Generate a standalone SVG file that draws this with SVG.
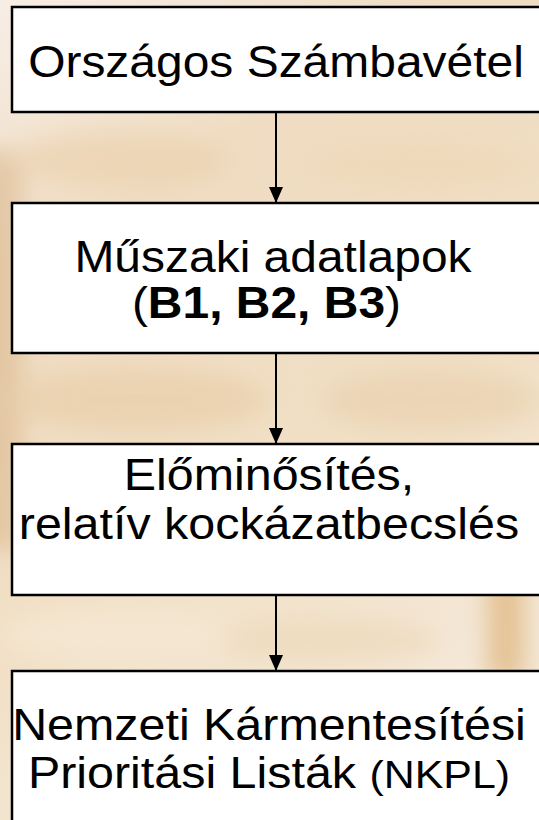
<svg xmlns="http://www.w3.org/2000/svg" width="539" height="820" viewBox="0 0 539 820">
  <defs>
    <linearGradient id="bg" x1="0" y1="0" x2="0.4" y2="1">
      <stop offset="0" stop-color="#f7eee6"/>
      <stop offset="0.3" stop-color="#efdcc2"/>
      <stop offset="0.7" stop-color="#f1e0c6"/>
      <stop offset="1" stop-color="#f4e8d8"/>
    </linearGradient>
    <filter id="blur" x="-50%" y="-50%" width="200%" height="200%">
      <feGaussianBlur stdDeviation="12"/>
    </filter>
    <marker id="arrow" viewBox="0 0 16 14" refX="16" refY="7" markerWidth="16" markerHeight="14" markerUnits="userSpaceOnUse" orient="auto">
      <path d="M0,0 L16,7 L0,14 Z" fill="#000"/>
    </marker>
    <style>
      .box { fill: #ffffff; stroke: #000000; stroke-width: 2.5; }
      .lbl { font-family: "Liberation Sans", Arial, sans-serif; font-size: 44px; fill: #000000; text-anchor: middle; }
      .b { font-weight: bold; }
      .sm { font-size: 39px; }
      .conn { stroke: #000000; stroke-width: 2; fill: none; }
    </style>
  </defs>

  <g id="background">
    <rect x="0" y="0" width="539" height="820" fill="url(#bg)"/>
    <g filter="url(#blur)" opacity="0.75">
      <rect x="-20" y="150" width="42" height="400" fill="#dfbf98"/>
      <ellipse cx="120" cy="160" rx="110" ry="28" fill="#ecd3b0"/>
      <ellipse cx="420" cy="165" rx="120" ry="28" fill="#efd8b8"/>
      <ellipse cx="140" cy="400" rx="130" ry="32" fill="#e9cfaa"/>
      <ellipse cx="430" cy="400" rx="110" ry="32" fill="#ead2b0"/>
      <ellipse cx="120" cy="635" rx="120" ry="28" fill="#f5e8d4"/>
      <rect x="488" y="570" width="36" height="110" fill="#deb47a"/>
      <ellipse cx="330" cy="640" rx="110" ry="22" fill="#eed9bb"/>
    </g>
  </g>

  <g id="connectors">
    <line class="conn" x1="276" y1="112" x2="276" y2="203" marker-end="url(#arrow)"/>
    <line class="conn" x1="276" y1="353" x2="276" y2="444" marker-end="url(#arrow)"/>
    <line class="conn" x1="276" y1="595" x2="276" y2="671" marker-end="url(#arrow)"/>
  </g>

  <g id="node1">
    <rect class="box" x="12" y="7" width="560" height="105"/>
    <g transform="translate(276,0) scale(1.09,1)">
      <text class="lbl" x="0" y="77">Országos Számbavétel</text>
    </g>
  </g>

  <g id="node2">
    <rect class="box" x="12" y="203" width="560" height="150"/>
    <g transform="translate(273,0) scale(1.09,1)">
      <text class="lbl" x="0" y="272">Műszaki adatlapok</text>
      <text class="lbl" x="-6" y="318">(<tspan class="b">B1, B2, B3</tspan>)</text>
    </g>
  </g>

  <g id="node3">
    <rect class="box" x="12" y="444" width="560" height="151"/>
    <g transform="translate(269,0) scale(1.1,1)">
      <text class="lbl" x="0" y="490">Előminősítés,</text>
      <text class="lbl" x="0" y="539">relatív kockázatbecslés</text>
    </g>
  </g>

  <g id="node4">
    <rect class="box" x="12" y="671" width="560" height="170"/>
    <g transform="translate(269,0) scale(1.1,1)">
      <text class="lbl" x="0" y="740">Nemzeti Kármentesítési</text>
      <text class="lbl" x="0" y="788">Prioritási Listák <tspan class="sm">(NKPL)</tspan></text>
    </g>
  </g>
</svg>
